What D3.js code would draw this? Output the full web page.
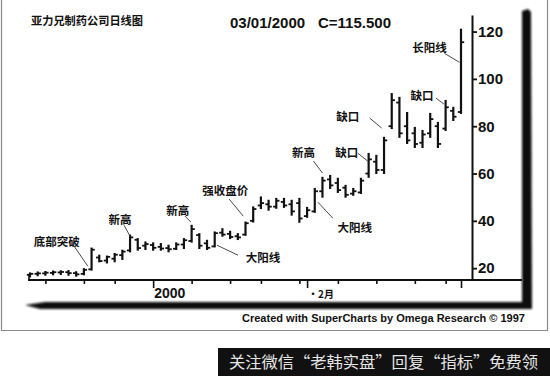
<!DOCTYPE html>
<html>
<head>
<meta charset="utf-8">
<script src="https://cdn.jsdelivr.net/npm/d3@7"></script>
<style>
  body { margin: 0; background: #fff; }
  svg { display: block; }
  .cn { font-family: "Noto Sans CJK SC", sans-serif; font-weight: 700; fill: #111; }
  .num { font-family: "Liberation Sans", Arial, sans-serif; font-weight: 700; fill: #111; }
</style>
</head>
<body>
<div class="container"></div>
<script>
// daily bars, Dec 1999 .. 03/01/2000 (one entry per trading day)
const opens  = [17.2,17.6,17.8,18.0,18.2,18.3,17.9,17.6,19.5,24.5,23.2,24.0,25.5,27.5,32.0,29.5,29.8,29.0,28.5,28.2,
                30.0,31.5,34.0,30.5,29.2,35.0,34.5,33.5,34.2,40.0,46.5,47.0,46.0,48.0,47.0,47.5,42.0,44.0,52.5,57.5,
                56.0,54.0,51.5,52.0,60.0,65.0,61.5,80.0,90.0,80.0,77.0,73.0,77.0,80.0,79.0,86.5,86.0];
const highs  = [18.0,18.4,18.6,18.8,18.9,19.0,18.5,19.8,28.5,25.5,25.1,26.2,27.6,34.0,32.5,31.1,30.7,30.4,29.7,30.7,
                32.5,38.1,34.6,31.8,35.3,36.7,35.6,34.6,39.5,45.9,50.1,48.7,49.5,49.5,48.7,49.5,45.7,53.7,58.4,59.2,
                58.0,55.0,53.7,58.0,68.5,67.7,75.3,93.8,92.2,85.8,79.5,78.2,85.4,81.6,90.9,88.0,121.0];
const lows   = [16.3,16.8,17.0,17.2,17.3,17.0,16.6,17.2,19.2,22.7,22.2,22.7,23.7,26.9,27.6,27.9,27.6,27.6,26.9,27.9,
                28.3,31.0,28.3,27.9,29.0,33.5,32.5,32.1,33.9,39.5,45.2,44.5,45.3,45.7,42.4,39.4,41.5,43.6,50.0,53.7,
                52.0,50.0,50.8,51.6,58.4,60.0,60.0,79.0,75.3,72.7,71.0,71.0,75.3,71.0,78.2,82.4,85.4];
const closes = [17.6,17.8,18.1,18.3,18.4,17.9,17.4,19.3,27.8,23.0,24.8,25.7,27.0,33.0,28.5,30.2,28.6,28.3,28.0,30.0,
                31.8,36.5,29.5,28.6,34.8,34.2,33.2,33.0,39.0,45.0,47.5,46.0,48.5,46.5,44.0,41.0,44.5,52.5,57.0,55.0,
                53.0,51.0,52.5,57.0,66.0,61.5,74.0,91.0,77.0,74.0,72.5,76.5,83.0,72.5,88.0,84.0,115.5];

// weekly ticks on the date axis (bar index), month starts get long ticks + labels
const weekTicks  = [2, 7, 11, 16, 21, 26, 30, 35, 36, 40, 45, 50, 54, 56];
const monthTicks = [16, 36, 56];
const monthLabels = ["2000", "·2月", ""];
const priceTicks = [20, 40, 60, 80, 100, 120];

// annotations: text, bar index and price the leader points at
const noteText  = ["底部突破", "新高", "新高", "强收盘价", "大阳线", "大阳线", "新高", "缺口", "缺口", "缺口", "长阳线"];
const noteIdx   = [7.5, 13, 20.9, 27.7, 24.3, 37.4, 38, 43.9, 45.7, 53.8, 55.8];
const notePrice = [20.9, 33.5, 39.5, 42.0, 29.7, 47.9, 60.2, 65.2, 79.2, 89.3, 107];

const title = "亚力兄制药公司日线图";
const lastDate = "03/01/2000";
const lastClose = "C=115.500";

// leader line start and text centre, px offsets from the pointed-at spot
const noteLayout = [
  [-13, -19, -31, -25], [-6, -11, -10, -17], [-6, -6, -13, -12], [-14, -17, -18, -26],
  [21, 10, 46, 12], [15, 16, 37, 25], [-9, -12, -19, -21], [-10, -8, -21, -9],
  [-12, -10, -34, -12], [-8, -6, -22, -9], [-15, -9, -30, -15]
];

const width = 550, height = 376;
const svg = d3.select(".container").append("svg")
  .attr("width", width).attr("height", height);

const defs = svg.append("defs");
defs.append("filter").attr("id", "soft")
  .append("feGaussianBlur").attr("stdDeviation", 0.8);

// scanned page border
svg.append("path")
  .attr("d", "M1.5,0 V330.5 H547.5 V0")
  .attr("fill", "none").attr("stroke", "#8a8a8a").attr("stroke-width", 1.2);

// drop shadow of the chart box
const shadow = svg.append("g").attr("fill", "#0d0d0d").attr("filter", "url(#soft)");
shadow.append("path").attr("d", "M522,11 L528,9 L531,12 L532,309 L522,309 Z");
shadow.append("path").attr("d", "M25,305 L45,302 L532,302 L532,309 L40,309 Z");

const x = d3.scaleLinear().domain([0, 56]).range([30, 461]);
const y = d3.scaleLinear().domain([15, 127]).range([280, 15]);

// date axis
svg.append("line")
  .attr("x1", 28).attr("x2", 522).attr("y1", 280).attr("y2", 280)
  .attr("stroke", "#111").attr("stroke-width", 2);
svg.append("line")
  .attr("x1", 29).attr("x2", 29).attr("y1", 274).attr("y2", 280)
  .attr("stroke", "#111").attr("stroke-width", 1.6);

const xAxis = svg.append("g")
  .attr("transform", "translate(0,280)")
  .call(d3.axisBottom(x).tickValues(weekTicks).tickSize(4).tickFormat(""));
xAxis.select(".domain").remove();
xAxis.selectAll("line").attr("stroke", "#111").attr("stroke-width", 1.6);
xAxis.selectAll(".tick").filter(d => monthTicks.includes(d))
  .select("line").attr("y2", 8);

svg.append("g").selectAll("text")
  .data(monthTicks)
  .join("text")
  .attr("class", (d, i) => i === 0 ? "num" : "cn")
  .attr("x", d => x(d) + 1)
  .attr("y", 298)
  .attr("font-size", (d, i) => i === 0 ? 14 : 10)
  .text((d, i) => monthLabels[i]);

// price axis on the right
const yAxis = svg.append("g")
  .attr("transform", "translate(472,0)")
  .call(d3.axisRight(y).tickValues(priceTicks).tickSize(5).tickSizeOuter(0).tickPadding(1));
yAxis.select(".domain").attr("stroke", "#111").attr("stroke-width", 2);
yAxis.selectAll("line").attr("stroke", "#111").attr("stroke-width", 1.8);
yAxis.selectAll("text")
  .attr("class", "num")
  .attr("font-size", 15)
  .attr("fill", "#111");

// OHLC bars
const bars = svg.append("g").attr("stroke", "#111");
const idx = d3.range(opens.length);
bars.selectAll(".hl").data(idx).join("line")
  .attr("class", "hl")
  .attr("x1", i => x(i)).attr("x2", i => x(i))
  .attr("y1", i => y(highs[i]) - 0.5).attr("y2", i => y(lows[i]) + 0.5)
  .attr("stroke-width", 2.2);
bars.selectAll(".op").data(idx).join("line")
  .attr("class", "op")
  .attr("x1", i => x(i) - 3.2).attr("x2", i => x(i))
  .attr("y1", i => y(opens[i])).attr("y2", i => y(opens[i]))
  .attr("stroke-width", 1.8);
bars.selectAll(".cl").data(idx).join("line")
  .attr("class", "cl")
  .attr("x1", i => x(i)).attr("x2", i => x(i) + 3.2)
  .attr("y1", i => y(closes[i])).attr("y2", i => y(closes[i]))
  .attr("stroke-width", 1.8);

// annotations with leader lines
const notes = svg.append("g").selectAll("g")
  .data(noteText)
  .join("g")
  .attr("transform", (d, i) => `translate(${x(noteIdx[i])},${y(notePrice[i])})`);
notes.append("line")
  .attr("x1", (d, i) => noteLayout[i][0]).attr("y1", (d, i) => noteLayout[i][1])
  .attr("x2", 0).attr("y2", 0)
  .attr("stroke", "#333").attr("stroke-width", 0.9);
notes.append("text")
  .attr("class", "cn")
  .attr("font-size", 11.5)
  .attr("text-anchor", "middle")
  .attr("dominant-baseline", "central")
  .attr("x", (d, i) => noteLayout[i][2])
  .attr("y", (d, i) => noteLayout[i][3])
  .text(d => d);

// header
svg.append("text").attr("class", "cn")
  .attr("x", 31).attr("y", 25).attr("font-size", 11.5)
  .attr("textLength", 112).attr("lengthAdjust", "spacingAndGlyphs")
  .text(title);
svg.append("text").attr("class", "num")
  .attr("x", 230).attr("y", 28).attr("font-size", 15)
  .text(lastDate);
svg.append("text").attr("class", "num")
  .attr("x", 318).attr("y", 28).attr("font-size", 15)
  .text(lastClose);

// footer credit
svg.append("text").attr("class", "num")
  .attr("x", 242).attr("y", 322).attr("font-size", 11)
  .attr("textLength", 283).attr("lengthAdjust", "spacingAndGlyphs")
  .text("Created with SuperCharts by Omega Research © 1997");

// watermark banner
svg.append("rect")
  .attr("x", 218).attr("y", 348).attr("width", 332).attr("height", 28)
  .attr("fill", "#111");
svg.append("text")
  .attr("x", 229).attr("y", 368)
  .attr("font-family", "'Noto Sans CJK SC', sans-serif")
  .attr("font-size", 16)
  .attr("fill", "#e6e6e6")
  .attr("textLength", 309).attr("lengthAdjust", "spacingAndGlyphs")
  .text("关注微信“老韩实盘”回复“指标”免费领");
</script>
</body>
</html>
